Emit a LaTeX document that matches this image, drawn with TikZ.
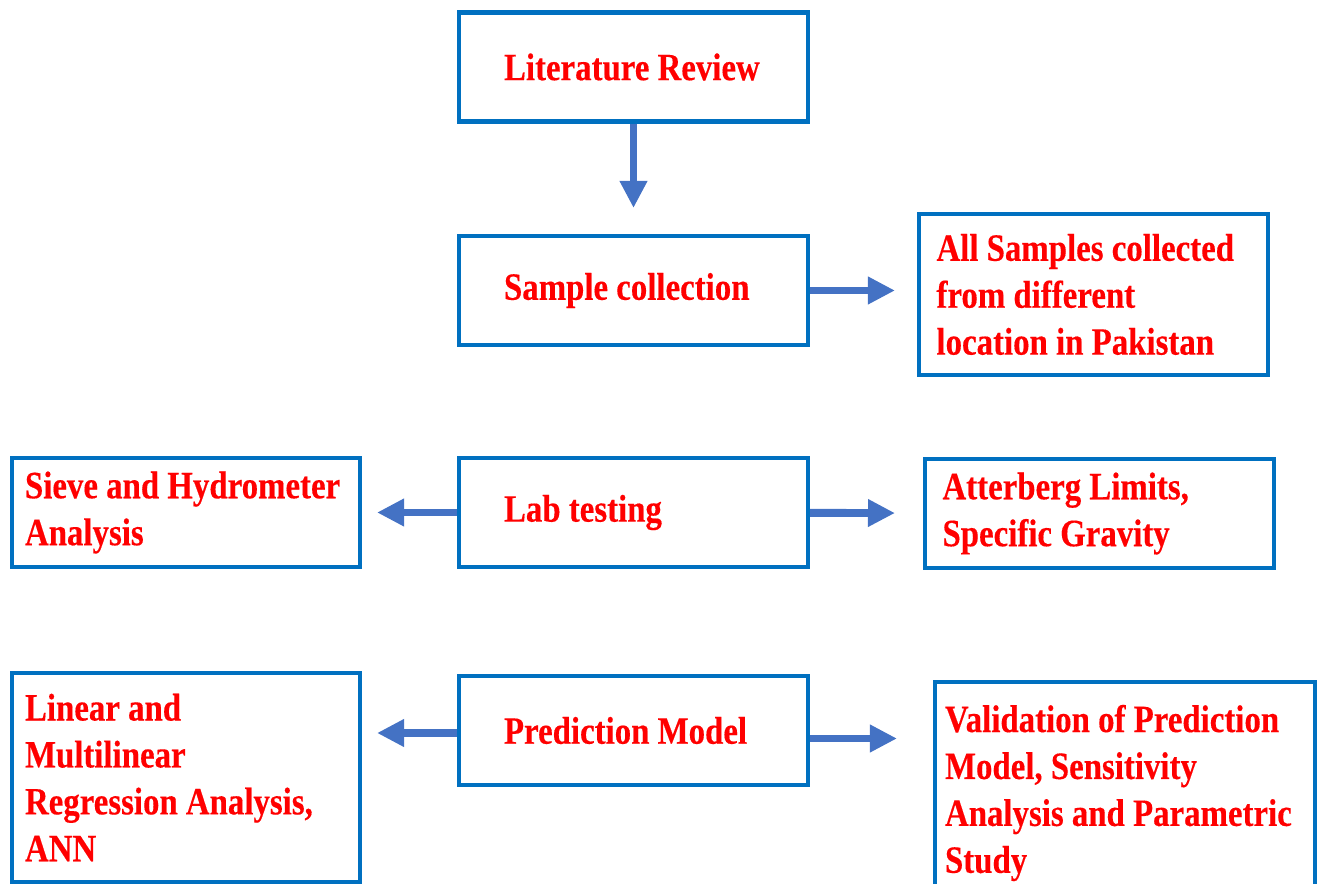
\documentclass[tikz,border=0pt]{standalone}
\usepackage{fontspec}
\setmainfont{Liberation Serif}[FakeStretch=0.85, FakeBold=0.3]
\usetikzlibrary{arrows.meta}
\definecolor{boxblue}{HTML}{0070C0}
\definecolor{arrowblue}{HTML}{4472C4}
\definecolor{txtred}{HTML}{FF0000}

\begin{document}
\hyphenpenalty=10000
\begin{tikzpicture}[
    box/.style={draw=boxblue, line width=2.3pt, text=txtred, align=flush left,
        font=\fontsize{22}{26.7}\selectfont\bfseries, inner ysep=0pt},
    stage/.style={box, text width=5.18cm, inner xsep=0.9cm, minimum height=2.18cm},
    note/.style={box, inner xsep=0.35cm},
    flow/.style={draw=arrowblue, line width=4.5pt,
        -{Triangle[length=0.54cm, width=0.52cm]}}
  ]
  \useasboundingbox (0,0) rectangle (26.38,-17.68);

  % Main stages
  \node[stage] (lit) at (12.67,-1.34) {Literature Review};
  \node[stage] (samp) at (12.67,-5.81) {Sample collection};
  \node[stage] (lab) at (12.67,-10.25) {Lab testing};
  \node[stage] (pred) at (12.67,-14.61) {Prediction Model};

  % Side notes
  \node[note, text width=6.28cm, minimum height=3.22cm] (loc) at (21.87,-5.89)
      {All Samples collected\\from different\\location in Pakistan};
  \node[note, text width=6.44cm, inner xsep=0.26cm, minimum height=2.18cm] (sieve) at (3.72,-10.25)
      {Sieve and Hydrometer\\Analysis};
  \node[note, text width=6.28cm, minimum height=2.18cm] (atter) at (21.99,-10.27)
      {Atterberg Limits,\\Specific Gravity};
  \node[note, text width=6.44cm, inner xsep=0.26cm, minimum height=4.18cm] (reg) at (3.72,-15.55)
      {Linear and\\Multilinear\\Regression Analysis,\\ANN};
  \node[note, text width=7.2cm, inner xsep=0.2cm, minimum height=4.44cm] (valid) at (22.5,-15.86)
      {Validation of Prediction\\Model, Sensitivity\\Analysis and Parametric\\Study};

  % Arrows
  \draw[flow, shorten >=0.52cm] (lit) -- (samp);
  \draw[flow, shorten >=0.44cm] (samp) -- (loc.west |- samp);
  \draw[flow, shorten >=0.3cm] (lab) -- (sieve);
  \draw[flow, shorten >=0.56cm] (lab) -- (atter);
  \draw[flow, shorten >=0.3cm] ([yshift=-0.05cm]pred.west) -- ([yshift=-0.05cm]pred.west -| sieve.east);
  \draw[flow, shorten >=0.72cm] ([yshift=-0.16cm]pred.east) -- ([yshift=-0.16cm]pred.east -| valid.west);
\end{tikzpicture}
\end{document}
